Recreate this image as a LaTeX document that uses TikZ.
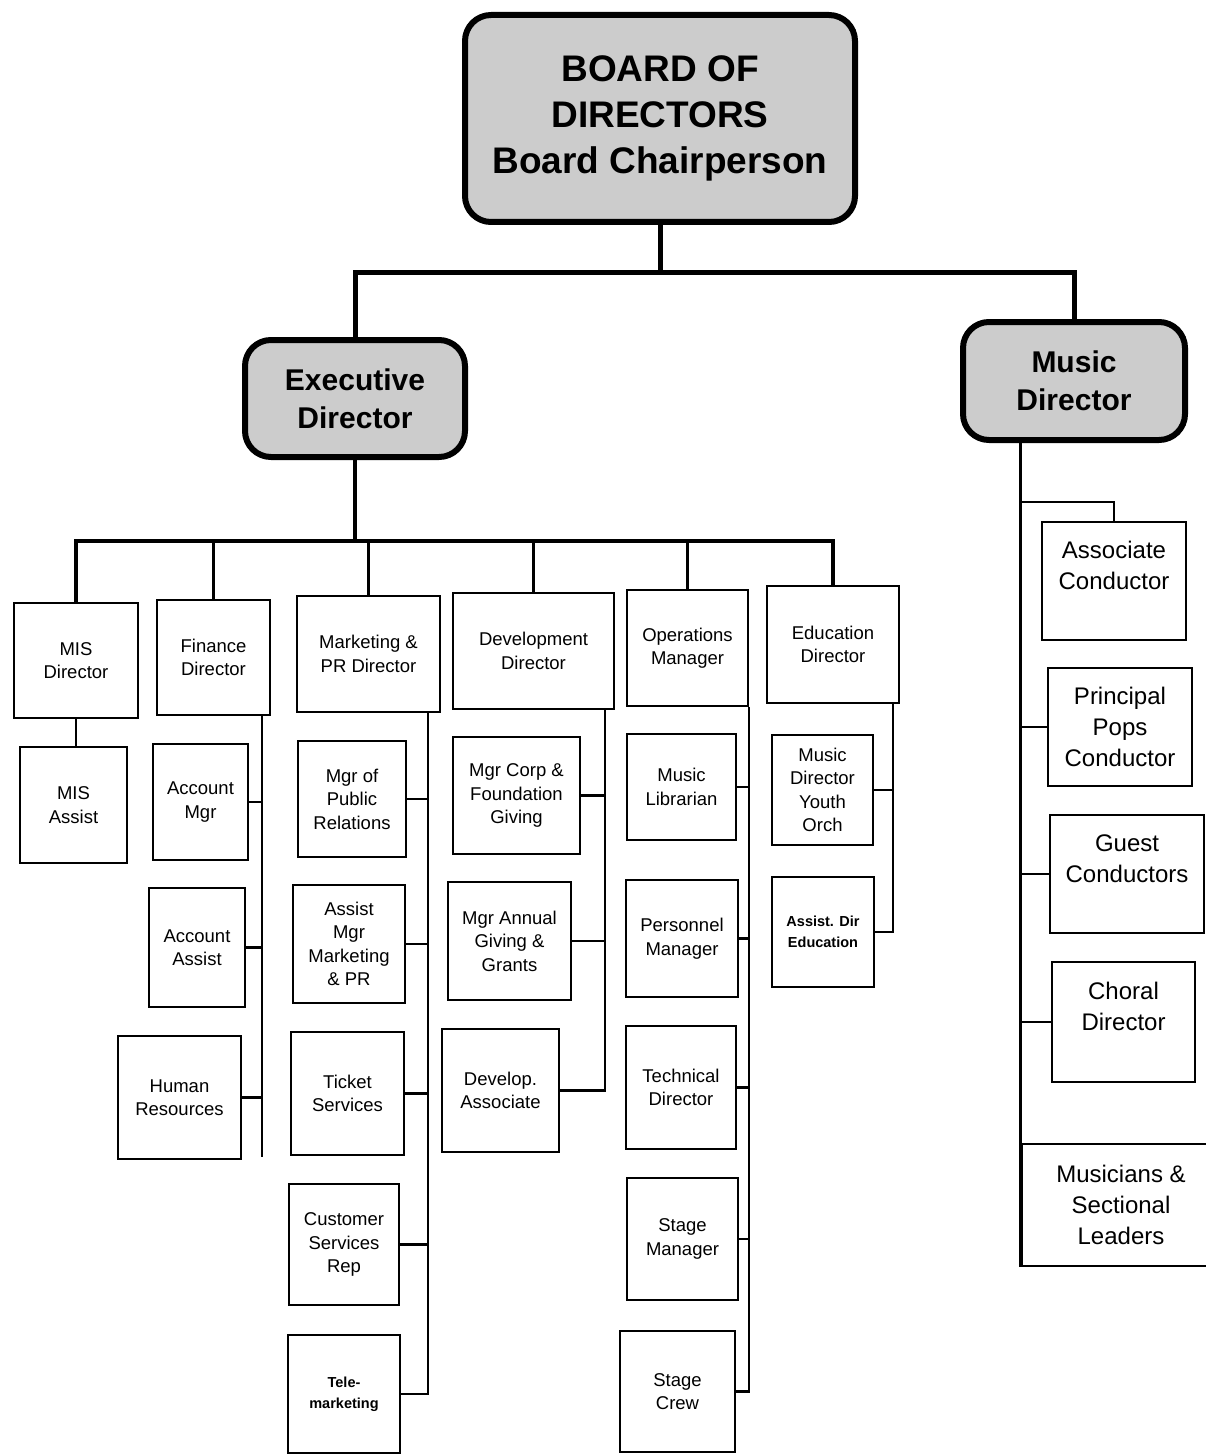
\documentclass[tikz,border=0pt]{standalone}
\usepackage{fontspec}
\setmainfont{Liberation Sans}

% box given by its corners (x1,y1)-(x2,y2), y measured downward
\newcommand\orgbox[7][]{%
  \node[obox,#1,minimum width={#5-#3},minimum height={#6-#4}]
    (#2) at ({(#3+#5)/2},{(#4+#6)/2}) {#7};}

\tikzset{
  obox/.style={draw=black,line width=2.2pt,fill=white,align=center,inner sep=0pt,
               font=\fontsize{18.5}{23.5}\selectfont},
  head/.style={draw=black,line width=6pt,fill=black!20,rounded corners=26pt,
               align=center,inner sep=0pt,font=\fontsize{30}{38}\bfseries\selectfont},
  mus/.style={font=\fontsize{24}{31}\selectfont},
  smallbf/.style={font=\fontsize{14.5}{21}\bfseries\selectfont},
  trunk/.style={line width=5pt,line join=miter},
  bus/.style={line width=3.6pt},
  col/.style={line width=2.2pt},
}

\begin{document}
\begin{tikzpicture}[x=1pt,y=-1pt]
\useasboundingbox[fill=white] (0,0) rectangle (1206,1455);

% ---- top level ----
\orgbox[head,font=\fontsize{37}{46}\bfseries\selectfont]{board}{465}{15}{855}{222}{BOARD OF\\DIRECTORS\\Board Chairperson}
\orgbox[head]{exec}{245}{340}{465}{457}{Executive\\Director}
\orgbox[head]{music}{963}{322}{1185}{440}{Music\\Director}

\draw[trunk] (board.south) -- (board.south |- 0,272);
\draw[trunk] (exec.north) |- (music.north |- 0,272) -- (music.north);

% ---- department heads ----
\orgbox{mis}{14}{603}{138}{718}{MIS\\Director}
\orgbox{fin}{157}{600}{270}{715}{Finance\\Director}
\orgbox{mkt}{297}{596}{440}{712}{Marketing \&\\PR Director}
\orgbox{dev}{453}{593}{614}{709}{Development\\Director}
\orgbox{ops}{627}{590}{748}{706}{Operations\\Manager}
\orgbox{edu}{767}{586}{899}{703}{Education\\Director}

\draw[bus] (exec.south) -- (exec.south |- 0,541);
\draw[bus] (mis.north) |- (edu.north |- 0,541) -- (edu.north);
\foreach \d in {fin,mkt,dev,ops}
  \draw[bus] (\d.north) -- (\d.north |- 0,541);

% ---- MIS ----
\orgbox{misa}{20}{747}{127}{863}{MIS\\Assist}
\draw[col] (mis.south) -- (mis.south |- misa.north);

% ---- Finance ----
\orgbox{amgr}{153}{744}{248}{860}{Account\\Mgr}
\orgbox{aasst}{149}{888}{245}{1007}{Account\\Assist}
\orgbox{hr}{118}{1036}{241}{1159}{Human\\Resources}
\draw[col] (fin.south -| 262,0) -- (262,1157);
\foreach \c in {amgr,aasst,hr}
  \draw[col] (\c.east) -- (\c.east -| 262,0);

% ---- Marketing ----
\orgbox{mpr}{298}{741}{406}{857}{Mgr of\\Public\\Relations}
\orgbox{amkt}{293}{885}{405}{1003}{Assist\\Mgr\\Marketing\\\& PR}
\orgbox{tix}{291}{1032}{404}{1155}{Ticket\\Services}
\orgbox{csr}{289}{1184}{399}{1305}{Customer\\Services\\Rep}
\orgbox[smallbf]{tele}{288}{1335}{400}{1453}{Tele-\\marketing}
\draw[col] (mkt.south -| 428,0) |- (tele.east);
\foreach \c in {mpr,amkt,tix,csr}
  \draw[col] (\c.east) -- (\c.east -| 428,0);

% ---- Development ----
\orgbox{corp}{453}{737}{580}{854}{Mgr Corp \&\\Foundation\\Giving}
\orgbox{annual}{448}{882}{571}{1000}{Mgr Annual\\Giving \&\\Grants}
\orgbox{dassoc}{442}{1029}{559}{1152}{Develop.\\Associate}
\draw[col] (dev.south -| 605,0) |- (dassoc.east);
\foreach \c in {corp,annual}
  \draw[col] (\c.east) -- (\c.east -| 605,0);

% ---- Operations ----
\orgbox{lib}{627}{734}{736}{840}{Music\\Librarian}
\orgbox{pers}{626}{880}{738}{997}{Personnel\\Manager}
\orgbox{tech}{626}{1026}{736}{1149}{Technical\\Director}
\orgbox{smgr}{627}{1178}{738}{1300}{Stage\\Manager}
\orgbox{crew}{620}{1331}{735}{1452}{Stage\\Crew}
\draw[col] (ops.south east) |- (crew.east);
\foreach \c in {lib,pers,tech,smgr}
  \draw[col] (\c.east) -- (\c.east -| ops.south east);

% ---- Education ----
\orgbox{youth}{772}{735}{873}{845}{Music\\Director\\Youth\\Orch}
\orgbox[smallbf]{adir}{772}{877}{874}{987}{Assist. Dir\\Education}
\draw[col] (edu.south -| 893,0) |- (adir.east);
\draw[col] (youth.east) -- (youth.east -| 893,0);

% ---- Music Director ----
% a trailing empty line lifts the text into the upper part of the box
\orgbox[mus]{assoc}{1042}{522}{1186}{640}{Associate\\Conductor\\\mbox{}}
\orgbox[mus]{pops}{1048}{668}{1192}{786}{Principal\\Pops\\Conductor}
\orgbox[mus]{guest}{1050}{815}{1204}{933}{Guest\\Conductors\\\mbox{}}
\orgbox[mus]{choral}{1052}{962}{1195}{1082}{Choral\\Director\\\mbox{}}
\orgbox[mus]{players}{1022}{1144}{1220}{1266}{Musicians \&\\Sectional\\Leaders}
\draw[col,line width=3pt] (music.south -| players.south west) -- (players.south west);
\draw[col] (1022,502) -| (assoc.north);
\foreach \c in {pops,guest,choral}
  \draw[col] (\c.west) -- (\c.west -| players.west);
\end{tikzpicture}
\end{document}
